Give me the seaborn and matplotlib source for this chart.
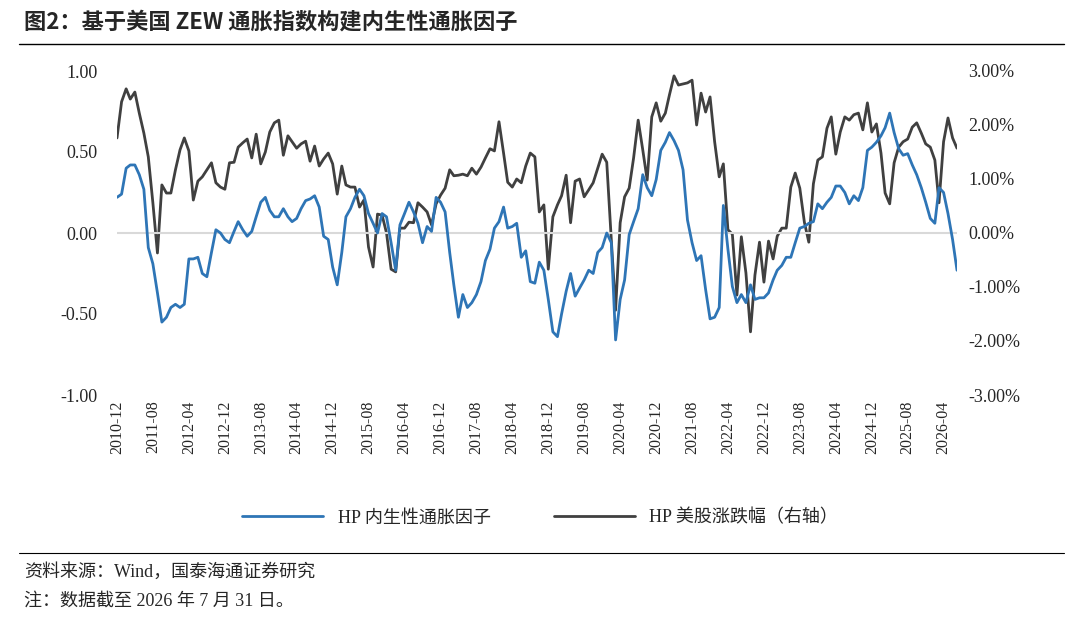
import numpy as np
import pandas as pd
import matplotlib
matplotlib.use("Agg")
import matplotlib.pyplot as plt
import matplotlib.dates as mdates
from matplotlib.ticker import FuncFormatter
import seaborn as sns

start_month = "2010-12"
hp_factor = [0.22,0.24,0.40,0.42,0.42,0.36,0.27,-0.09,-0.19,-0.37,
             -0.55,-0.52,-0.46,-0.44,-0.46,-0.44,-0.16,-0.16,-0.15,-0.25,
             -0.27,-0.12,0.02,0.0,-0.04,-0.06,0.01,0.07,0.02,-0.02,
             0.01,0.10,0.19,0.22,0.14,0.10,0.10,0.15,0.10,0.07,0.09,
             0.15,0.20,0.21,0.23,0.16,-0.02,-0.04,-0.21,-0.32,-0.12,0.10,0.15,0.22,0.27,0.23,0.12,0.06,0.0,0.12,0.10,-0.06,-0.23,
             0.05,0.12,0.19,0.13,0.06,-0.06,0.04,0.01,0.22,0.19,0.13,
             -0.12,-0.32,-0.52,-0.38,-0.46,-0.43,-0.38,-0.30,-0.17,-0.10,
             0.03,0.07,0.16,0.03,0.04,0.06,-0.15,-0.11,-0.30,-0.31,
             -0.18,-0.23,-0.41,-0.61,-0.64,
             -0.50,-0.36,-0.25,-0.39,-0.34,-0.29,-0.23,-0.25,-0.12,-0.09,
             0.0,-0.06,-0.66,-0.41,-0.29,-0.01,0.07,0.15,0.36,0.28,0.23,0.33,0.51,0.56,
             0.62,0.57,0.51,0.39,0.08,-0.06,-0.17,-0.14,-0.35,-0.53,
             -0.52,-0.46,0.17,-0.10,-0.33,-0.43,-0.38,-0.43,-0.32,-0.41,
             -0.40,-0.40,-0.37,-0.29,-0.23,-0.20,-0.15,-0.15,-0.06,0.03,
             0.04,0.06,0.07,0.18,0.15,0.19,0.22,0.29,0.29,0.25,
             0.18,0.23,0.20,0.28,0.51,0.53,0.56,0.60,0.65,0.74,
             0.62,0.52,0.48,0.49,0.42,0.36,0.28,0.19,0.09,0.06,
             0.28,0.25,0.12,-0.04,-0.23]
hp_stock = [1.76,2.43,2.67,2.48,2.61,2.22,1.85,1.41,0.56,-0.37,
            0.89,0.74,0.74,1.17,1.54,1.76,1.52,0.61,0.96,1.04,
            1.17,1.30,0.93,0.85,0.81,1.30,1.31,1.59,1.67,1.74,
            1.39,1.83,1.28,1.50,1.87,2.04,2.09,1.44,1.80,1.69,
            1.57,1.65,1.70,1.33,1.61,1.24,1.37,1.48,1.28,0.72,
            1.24,0.89,0.85,0.85,0.48,0.61,-0.26,-0.63,0.35,0.33,
            0.00,-0.67,-0.72,
            0.09,0.09,0.20,0.19,0.56,0.48,0.39,0.15,0.54,0.70,
            0.83,1.17,1.06,1.07,1.09,1.06,1.20,1.09,1.22,1.39,
            1.56,1.52,2.06,1.48,0.94,0.85,1.00,0.93,1.24,1.48,
            1.41,0.39,0.52,-0.67,0.30,0.52,0.69,1.07,0.19,0.96,
            1.00,0.67,0.80,0.93,1.20,1.46,1.31,-0.13,-1.43,0.19,
            0.67,0.83,1.39,2.09,1.54,0.98,2.15,2.41,2.07,2.22,
            2.56,2.91,2.74,
            2.76,2.78,2.83,2.00,2.59,2.24,2.52,1.69,1.04,1.28,
            0.06,-0.02,-1.15,-0.07,-0.74,-1.83,-0.78,-0.17,-0.91,-0.15,
            -0.48,-0.06,0.09,0.09,0.85,1.11,0.83,0.20,-0.17,0.91,
            1.35,1.41,1.94,2.15,1.46,1.87,2.15,2.09,2.19,2.22,
            1.91,2.41,1.87,2.02,1.48,0.74,0.54,1.30,1.59,1.69,
            1.74,1.96,2.04,1.85,1.65,1.59,1.35,0.56,1.69,2.13,
            1.76,1.57]
label_factor = "HP 内生性通胀因子"
label_stock = "HP 美股涨跌幅（右轴）"

sns.set_theme(style="white")
plt.rcParams['font.family'] = ['Liberation Serif', 'Noto Sans CJK SC', 'DejaVu Sans']

dates = pd.date_range(start_month, periods=len(hp_factor), freq="MS")
df1 = pd.DataFrame({"date": dates, "v": hp_factor})
df2 = pd.DataFrame({"date": pd.date_range(start_month, periods=len(hp_stock), freq="MS"), "v": hp_stock})

fig = plt.figure(figsize=(10.8, 6.19), dpi=100)
ax = fig.add_axes([117/1080, 1-395/619, 840/1080, 324/619])
ax2 = ax.twinx()
blue = "#2E75B6"
gray = "#404040"
ax.axhline(0, color="#d9d9d9", lw=1.5, zorder=0)
sns.lineplot(data=df1, x="date", y="v", ax=ax, color=blue, lw=2, legend=False)
sns.lineplot(data=df2, x="date", y="v", ax=ax2, color=gray, lw=2, legend=False)
ax.set_ylim(-1, 1)
ax2.set_ylim(-3, 3)
ax.set_yticks([-1, -0.5, 0, 0.5, 1])
ax.yaxis.set_major_formatter(FuncFormatter(lambda v, p: f"{v:.2f}"))
ax2.set_yticks([-3, -2, -1, 0, 1, 2, 3])
ax2.yaxis.set_major_formatter(FuncFormatter(lambda v, p: f"{v:.2f}%"))
ax.set_xlim(dates[0], dates[-1])
ticks = dates[::8]
ax.set_xticks(ticks)
ax.set_xticklabels([d.strftime("%Y-%m") for d in ticks], rotation=90, fontsize=11.5)
for a in (ax, ax2):
    for s in a.spines.values():
        s.set_visible(False)
    a.set_xlabel(""); a.set_ylabel("")
ax.tick_params(axis="y", labelsize=13, pad=14, length=0)
ax2.tick_params(axis="y", labelsize=13, pad=8, length=0)
ax.tick_params(axis="x", length=0, pad=4)
ax.set_zorder(ax2.get_zorder() + 1)
ax.patch.set_visible(False)

from matplotlib.lines import Line2D
handles = [Line2D([], [], color=blue, lw=2), Line2D([], [], color=gray, lw=2)]
fig.legend(handles, [label_factor, label_stock], loc="center", bbox_to_anchor=(0.5, 1-518/619),
           ncol=2, frameon=False, fontsize=13, handlelength=4.5, columnspacing=3.5)

fig.text(0.022, 1-22/619, "图2：基于美国 ZEW 通胀指数构建内生性通胀因子", fontsize=16, fontweight="bold",
         va="center", ha="left", family=['Noto Sans CJK SC', 'DejaVu Sans'])
fig.add_artist(Line2D([0.018, 0.985], [1-44/619, 1-44/619], color="black", lw=1))
fig.add_artist(Line2D([0.018, 0.985], [1-553/619, 1-553/619], color="black", lw=0.8))
fig.text(0.022, 1-572/619, "资料来源：Wind，国泰海通证券研究", fontsize=13, va="center", ha="left")
fig.text(0.022, 1-601/619, "注：数据截至 2026 年 7 月 31 日。", fontsize=13, va="center", ha="left")

fig.savefig("out.png", dpi=100)
